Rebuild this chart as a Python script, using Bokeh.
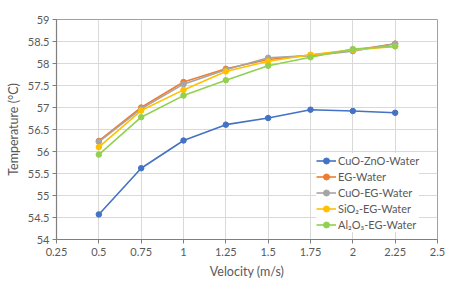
from bokeh.plotting import figure
from bokeh.models import FixedTicker, Legend, LegendItem
from bokeh.embed import file_html
from bokeh.resources import INLINE

velocity = [0.5, 0.75, 1.0, 1.25, 1.5, 1.75, 2.0, 2.25]
cuo_zno_water = [54.57, 55.62, 56.25, 56.61, 56.76, 56.95, 56.92, 56.88]
eg_water = [56.24, 57.0, 57.58, 57.88, 58.09, 58.19, 58.30, 58.45]
cuo_eg_water = [56.22, 56.97, 57.53, 57.86, 58.13, 58.18, 58.28, 58.45]
sio2_eg_water = [56.10, 56.93, 57.40, 57.82, 58.05, 58.20, 58.31, 58.39]
al2o3_eg_water = [55.93, 56.78, 57.27, 57.62, 57.95, 58.14, 58.33, 58.39]

series_names = ["CuO-ZnO-Water", "EG-Water", "CuO-EG-Water", "SiO₂-EG-Water", "Al₂O₃-EG-Water"]
series_values = [cuo_zno_water, eg_water, cuo_eg_water, sio2_eg_water, al2o3_eg_water]
colors = ["#4472C4", "#ED7D31", "#A5A5A5", "#FFC000", "#92D050"]

x_ticks = [0.25, 0.5, 0.75, 1.0, 1.25, 1.5, 1.75, 2.0, 2.25, 2.5]
x_tick_labels = ["0.25", "0.5", "0.75", "1", "1.25", "1.5", "1.75", "2", "2.25", "2.5"]
y_ticks = [54, 54.5, 55, 55.5, 56, 56.5, 57, 57.5, 58, 58.5, 59]
y_tick_labels = ["54", "54.5", "55", "55.5", "56", "56.5", "57", "57.5", "58", "58.5", "59"]

FONT = "Lato"
TXT = "#595959"

p = figure(width=457, height=288, output_backend="svg", toolbar_location=None,
           x_range=(0.25, 2.5), y_range=(54, 59),
           min_border_left=56, min_border_right=20, min_border_top=19, min_border_bottom=49)
p.frame_width = 381
p.frame_height = 220
p.outline_line_color = "#A0A0A0"
p.outline_line_width = 1
p.background_fill_color = "white"
p.border_fill_color = "white"

items = []
for name, vals, c in zip(series_names, series_values, colors):
    l = p.line(velocity, vals, line_color=c, line_width=1.6)
    s = p.scatter(velocity, vals, size=5.5, fill_color=c, line_color=c)
    items.append(LegendItem(label=name, renderers=[l, s]))

legend = Legend(items=items, location=(260, 7), border_line_color=None,
                background_fill_color="white", background_fill_alpha=1.0,
                label_text_font=FONT, label_text_font_size="11px", label_text_color=TXT,
                glyph_width=20, glyph_height=15, label_height=15, spacing=1,
                padding=2, margin=0, label_standoff=2)
p.add_layout(legend, "center")

for ax in (p.xaxis[0], p.yaxis[0]):
    ax.major_tick_line_color = "#7F7F7F"
    ax.major_tick_out = 4
    ax.major_tick_in = 0
    ax.minor_tick_line_color = None
    ax.axis_line_color = "#7F7F7F"
    ax.axis_line_width = 1.2
    ax.major_label_text_font = FONT
    ax.major_label_text_font_size = "11px"
    ax.major_label_text_color = TXT
    ax.axis_label_text_font = FONT
    ax.axis_label_text_font_size = "12.5px"
    ax.axis_label_text_color = TXT
    ax.axis_label_text_font_style = "normal"

p.xaxis[0].ticker = FixedTicker(ticks=x_ticks)
p.xaxis[0].major_label_overrides = {t: l for t, l in zip(x_ticks, x_tick_labels)}
p.yaxis[0].ticker = FixedTicker(ticks=y_ticks)
p.yaxis[0].major_label_overrides = {t: l for t, l in zip(y_ticks, y_tick_labels)}
p.xaxis[0].axis_label = "Velocity (m/s)"
p.yaxis[0].axis_label = "Temperature (°C)"
p.xaxis[0].major_label_standoff = 4
p.yaxis[0].major_label_standoff = 3
p.xaxis[0].axis_label_standoff = 5
p.yaxis[0].axis_label_standoff = 4

p.xgrid[0].ticker = FixedTicker(ticks=x_ticks)
p.ygrid[0].ticker = FixedTicker(ticks=y_ticks)
p.xgrid[0].grid_line_color = "#D9D9D9"
p.ygrid[0].grid_line_color = "#D9D9D9"

open("out.html", "w").write(file_html(p, INLINE))
